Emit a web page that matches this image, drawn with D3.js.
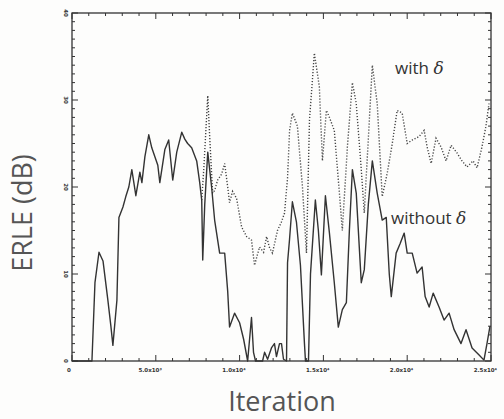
<!DOCTYPE html>
<html>
<head>
<meta charset="utf-8">
<script src="https://cdn.jsdelivr.net/npm/d3@7"></script>
<style>
  body { margin: 0; background: #fdfdfc; }
  .tick-label { font-family: "DejaVu Sans", sans-serif; font-size: 5.5px; font-weight: bold; fill: #333; }
  .axis-title { font-family: "Open Sans", sans-serif; font-size: 27px; fill: #555; }
  .note { font-family: "Open Sans", sans-serif; font-size: 17px; fill: #333; }
</style>
</head>
<body>
<div id="chart"></div>
<script>
// iteration / ERLE(dB) pairs
const withoutIter = [0, 1190, 1370, 1610, 1850, 2140, 2320, 2440, 2680, 2800, 3040, 3210, 3390, 3570, 3690, 3810, 4050, 4170, 4350, 4580, 4760, 4940, 5120, 5240, 5540, 5770, 6010, 6250, 6550, 6730, 6900, 7140, 7440, 7620, 7740, 7800, 7920, 8100, 8330, 8510, 8810, 9110, 9290, 9400, 9700, 10000, 10240, 10480, 10710, 10830, 10950, 11370, 11490, 11670, 11900, 12080, 12200, 12380, 12500, 12620, 12800, 12860, 12980, 13150, 13390, 13630, 13870, 13930, 14110, 14230, 14520, 14700, 14880, 15120, 15360, 15650, 15890, 16130, 16370, 16550, 16730, 16960, 17260, 17440, 17680, 17920, 18210, 18510, 18750, 18930, 19050, 19340, 19580, 19820, 20000, 20300, 20590, 20890, 21070, 21310, 21550, 21900, 22200, 22500, 22800, 23210, 23510, 23870, 24290, 24580, 24760, 24940];
const withoutErle = [0, 0, 9, 12.5, 11.5, 7, 4, 1.8, 7, 16.5, 17.7, 18.9, 20, 22, 20.5, 19, 21.7, 20.5, 23.5, 26, 24.5, 23.5, 22.5, 20.5, 24.3, 25.4, 20.8, 24, 26.3, 25.5, 25, 24.5, 23, 20.5, 18.5, 11.6, 18, 24, 20, 16.2, 12.4, 12.4, 8, 3.9, 5.5, 4.4, 2.5, 0, 5, 1, 0, 0, 1, 0.2, 1.5, 2, 0.5, 2, 2, 0.2, 0, 11.3, 14, 18.3, 16, 11, 2, 0, 0, 10, 18.5, 15, 9.9, 19, 14.7, 9, 3.9, 5.9, 6.7, 15, 22, 19.3, 9, 10.5, 18, 23, 19.3, 16.2, 16.5, 10, 7.4, 12.4, 13.5, 14.7, 12.4, 12.4, 10.1, 10.8, 7.4, 6.2, 7.8, 6.2, 4.7, 5.5, 3.6, 2, 3.6, 1.5, 0.7, 0.1, 2, 4];

const withIter = [7740, 7860, 8100, 8210, 8390, 8510, 8690, 8930, 9110, 9290, 9400, 9580, 9820, 10120, 10420, 10710, 10890, 11190, 11430, 11610, 11790, 11960, 12260, 12500, 12680, 12860, 12980, 13150, 13450, 13750, 13990, 14170, 14460, 14760, 14940, 15180, 15360, 15650, 15830, 16130, 16430, 16730, 16960, 17260, 17440, 17740, 17920, 18210, 18510, 18810, 19110, 19400, 19700, 20000, 20300, 20710, 21010, 21190, 21430, 21720, 22020, 22320, 22620, 22980, 23270, 23570, 23930, 24170, 24460, 24700, 24880];
const withErle = [18.5, 22, 30.5, 26, 19.3, 19.6, 20.8, 21.5, 22.7, 20, 18.2, 19.5, 18.7, 15.4, 14.3, 13.9, 11, 13.1, 12.5, 14.3, 13, 12.4, 15, 16, 17, 21, 26.5, 28.5, 27, 20, 12.4, 27.7, 35.4, 31.5, 23, 28.8, 28, 26.5, 22.3, 15, 24.6, 32, 29.6, 22, 17, 27.7, 34, 29.6, 18.9, 21.6, 25, 28.8, 28.5, 25, 25.4, 25.8, 26.5, 24.6, 22.7, 25.6, 24.6, 23, 24.8, 23.9, 23, 22.3, 23, 22.2, 24.6, 27, 29.6];

const xTicks = [0, 5000, 10000, 15000, 20000, 25000];
const xTickLabels = ["0", "5.0x10³", "1.0x10⁴", "1.5x10⁴", "2.0x10⁴", "2.5x10⁴"];
const yTicks = [0, 10, 20, 30, 40];

const margin = { top: 13, right: 13, bottom: 58, left: 72 };
const width = 504 - margin.left - margin.right,
  height = 419 - margin.top - margin.bottom;

const svg = d3.select("#chart")
  .append("svg")
  .attr("width", 504)
  .attr("height", 419);
const g = svg.append("g")
  .attr("transform", "translate(" + margin.left + "," + margin.top + ")");

const x = d3.scaleLinear().domain([0, 25000]).range([0, width]);
const y = d3.scaleLinear().domain([0, 40]).range([height, 0]);

// frame
g.append("rect")
  .attr("width", width).attr("height", height)
  .attr("fill", "none").attr("stroke", "#333").attr("stroke-width", 1.3);

// inward ticks on all four sides
const xMinor = d3.range(0, 25001, 1000);
const yMinor = d3.range(0, 41, 1);
function tickLen(v, step) { return v % step === 0 ? 6 : 3; }

g.append("g").selectAll("line").data(xMinor).enter().append("line")
  .attr("x1", d => x(d)).attr("x2", d => x(d))
  .attr("y1", height).attr("y2", d => height - tickLen(d, 5000))
  .attr("stroke", "#333");
g.append("g").selectAll("line").data(xMinor).enter().append("line")
  .attr("x1", d => x(d)).attr("x2", d => x(d))
  .attr("y1", 0).attr("y2", d => tickLen(d, 5000))
  .attr("stroke", "#333");
g.append("g").selectAll("line").data(yMinor).enter().append("line")
  .attr("y1", d => y(d)).attr("y2", d => y(d))
  .attr("x1", 0).attr("x2", d => tickLen(d, 10))
  .attr("stroke", "#333");
g.append("g").selectAll("line").data(yMinor).enter().append("line")
  .attr("y1", d => y(d)).attr("y2", d => y(d))
  .attr("x1", width).attr("x2", d => width - tickLen(d, 10))
  .attr("stroke", "#333");

// tick labels
g.append("g").selectAll("text").data(xTicks).enter().append("text")
  .attr("class", "tick-label")
  .attr("x", d => x(d)).attr("y", height + 11)
  .attr("text-anchor", (d, i) => i === 0 ? "middle" : "end")
  .attr("dx", (d, i) => i === 0 ? -3 : 6)
  .text((d, i) => xTickLabels[i]);
g.append("g").selectAll("text").data(yTicks).enter().append("text")
  .attr("class", "tick-label")
  .attr("transform", d => "translate(-8," + y(d) + ") rotate(90)")
  .attr("text-anchor", "middle")
  .text(d => d);

// series
const line = d3.line().x(d => x(d[0])).y(d => y(d[1]));
const withData = withIter.map((t, i) => [t, withErle[i]]);
const withoutData = withoutIter.map((t, i) => [t, withoutErle[i]]);

g.append("path")
  .datum(withData)
  .attr("d", line)
  .attr("fill", "none")
  .attr("stroke", "#444")
  .attr("stroke-width", 1.4)
  .attr("stroke-dasharray", "1.2,1.8");

g.append("path")
  .datum(withoutData)
  .attr("d", line)
  .attr("fill", "none")
  .attr("stroke", "#333")
  .attr("stroke-width", 1.4)
  .attr("stroke-linejoin", "round");

// annotations
const n1 = svg.append("text").attr("class", "note").attr("x", 395).attr("y", 74);
n1.append("tspan").text("with ");
n1.append("tspan").attr("font-style", "italic").attr("font-family", "DejaVu Serif").text("δ");
const n2 = svg.append("text").attr("class", "note").attr("x", 391).attr("y", 224);
n2.append("tspan").text("without   ");
n2.append("tspan").attr("font-style", "italic").attr("font-family", "DejaVu Serif").text("δ");

// axis titles
svg.append("text").attr("class", "axis-title")
  .attr("transform", "translate(32,213) rotate(-90)")
  .attr("text-anchor", "middle")
  .text("ERLE (dB)");
svg.append("text").attr("class", "axis-title")
  .attr("x", 282).attr("y", 411)
  .attr("text-anchor", "middle")
  .text("Iteration");
</script>
</body>
</html>
